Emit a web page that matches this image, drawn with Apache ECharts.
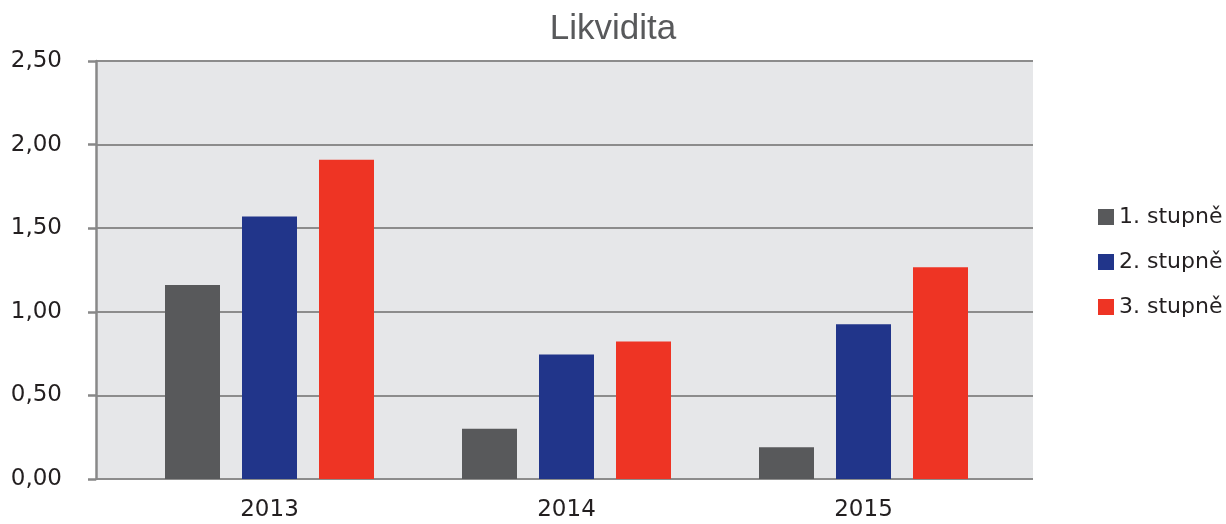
<!DOCTYPE html>
<html>
<head>
<meta charset="utf-8">
<script src="https://cdn.jsdelivr.net/npm/echarts@6/dist/echarts.min.js"></script>
<style>html,body{margin:0;padding:0;background:#fff}#c{width:1226px;height:524px}</style>
</head>
<body>
<div id="c"></div>
<script>
const categories = ['2013', '2014', '2015'];
const seriesNames = ['1. stupně', '2. stupně', '3. stupně'];
const stupen1 = [1.16, 0.30, 0.19];
const stupen2 = [1.57, 0.745, 0.925];
const stupen3 = [1.91, 0.823, 1.266];
const yTicks = { min: 0, max: 2.5, interval: 0.5 };

const colors = ['#58595b', '#21358a', '#ee3424'];
const font = 'DejaVu Sans';
const chart = echarts.init(document.getElementById('c'));
const fmt = v => v.toFixed(2).replace('.', ',');

chart.setOption({
  animation: false,
  title: {
    text: 'Likvidita', left: 'center', top: 7,
    textStyle: { fontFamily: 'Liberation Sans', fontSize: 35, fontWeight: 'normal', color: '#58595b' }
  },
  legend: {
    orient: 'vertical', left: 1093, top: 201,
    itemWidth: 16, itemHeight: 16, itemGap: 23,
    icon: 'rect',
    textStyle: { fontFamily: font, fontSize: 22, color: '#231f20' },
    data: seriesNames
  },
  grid: [
    { left: 96, right: 193, top: 61, bottom: 45 },
    { left: 121, right: 214, top: 61, bottom: 45 }
  ],
  xAxis: [
    { gridIndex: 0, type: 'value', min: 0, max: 1, show: false },
    { gridIndex: 1, type: 'category', data: categories,
      axisLine: { show: false }, axisTick: { show: false }, splitLine: { show: false },
      axisLabel: { margin: 20, fontFamily: font, fontSize: 23, color: '#231f20' } }
  ],
  yAxis: [
    { gridIndex: 0, type: 'value', min: yTicks.min, max: yTicks.max, interval: yTicks.interval,
      axisLine: { show: true, lineStyle: { color: '#888888', width: 2.5 } },
      axisTick: { show: true, length: 8, lineStyle: { color: '#888888', width: 2.5 } },
      splitLine: { show: true, lineStyle: { color: '#8c8c8c', width: 2 } },
      splitArea: { show: true, areaStyle: { color: ['#e6e7e9'], opacity: 1 } },
      axisLabel: { margin: 34, fontFamily: font, fontSize: 23, color: '#231f20', formatter: fmt } },
    { gridIndex: 1, type: 'value', min: yTicks.min, max: yTicks.max, interval: yTicks.interval, show: false,
      splitLine: { show: false } }
  ],
  series: [stupen1, stupen2, stupen3].map((d, i) => ({
    name: seriesNames[i], type: 'bar', xAxisIndex: 1, yAxisIndex: 1,
    data: d, barWidth: 55, barGap: '40%',
    itemStyle: { color: colors[i] }
  }))
});
</script>
</body>
</html>
